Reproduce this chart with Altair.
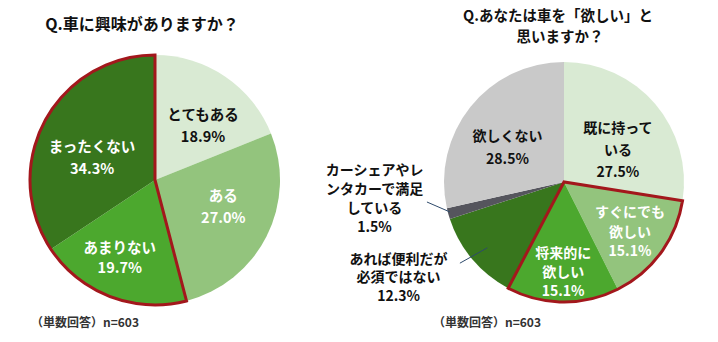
import altair as alt
import pandas as pd

# ---------------- data ----------------
left_categories = ["とてもある", "ある", "あまりない", "まったくない"]
left_names = ["とてもある", "ある", "あまりない", "まったくない"]
left_values = [18.9, 27.0, 19.7, 34.3]
left_highlight = [False, False, True, True]

right_categories = ["既に持っている", "すぐにでも欲しい", "将来的に欲しい",
                    "あれば便利だが必須ではない", "カーシェアやレンタカーで満足している", "欲しくない"]
right_names = ["既に持って\nいる", "すぐにでも\n欲しい", "将来的に\n欲しい",
               "あれば便利だが\n必須ではない", "カーシェアやレ\nンタカーで満足\nしている", "欲しくない"]
right_values = [27.5, 15.1, 15.1, 12.3, 1.5, 28.5]
right_highlight = [False, True, True, False, False, False]

left_title = "Q.車に興味がありますか？"
right_title_lines = ["Q.あなたは車を「欲しい」と", "思いますか？"]
footnote = "（単数回答）n=603"

# ---------------- styles ----------------
FONT = "Noto Sans CJK JP"
left_colors = ["#d9ead3", "#93c47d", "#4ca82e", "#38761d"]
right_colors = ["#d9ead3", "#93c47d", "#4ca82e", "#38761d", "#55555d", "#c9c9c9"]
RED = "#a3171c"
LEADER = "#2e4a6b"

LCX, LCY, LR = 155, 180, 125
RCX, RCY, RR = 564, 182, 120

color_scale = alt.Scale(domain=left_categories + right_categories,
                        range=left_colors + right_colors)
theta_scale = alt.Scale(domain=[0, 1])


def frame(cats, names, vals, hl):
    return pd.DataFrame({
        "idx": list(range(len(cats))),
        "cat": cats,
        "value": vals,
        "label": [f"{n}\n{v:.1f}%" for n, v in zip(names, vals)],
        "hl": hl,
    })


def base_chart(df):
    return (alt.Chart(df)
            .transform_window(cum="sum(value)", sort=[alt.SortField("idx")], frame=[None, 0])
            .transform_joinaggregate(total="sum(value)")
            .transform_calculate(start="(datum.cum - datum.value) / datum.total")
            .transform_calculate(end="datum.cum / datum.total")
            .transform_calculate(mid="(datum.cum - datum.value / 2) / datum.total"))


def pie_layers(df, cx, cy, R, label_specs, fs):
    base = base_chart(df)
    slices = base.mark_arc(radius=R).encode(
        theta=alt.Theta("start:Q", scale=theta_scale, stack=False),
        theta2="end:Q",
        color=alt.Color("cat:N", scale=color_scale, legend=None),
        x=alt.value(cx), y=alt.value(cy),
    )
    outline = (base.transform_filter("datum.hl")
               .transform_aggregate(s="min(start)", e="max(end)")
               .mark_arc(radius=R, fillOpacity=0, stroke=RED, strokeWidth=3, strokeJoin="miter")
               .encode(theta=alt.Theta("s:Q", scale=theta_scale, stack=False),
                       theta2="e:Q", x=alt.value(cx), y=alt.value(cy)))
    layers = [slices, outline]
    texts = []
    for cat, r, dx, dy, col, lh, nlines in label_specs:
        # first line sits on the anchor: shift so the whole block is centred
        dy_c = dy - (nlines - 1) * lh / 2
        texts.append(
            base.transform_filter(alt.datum.cat == cat)
            .mark_text(radius=r, dx=dx, dy=dy_c, font=FONT, fontSize=fs, fontWeight="bold",
                       color=col, lineBreak="\n", lineHeight=lh, align="center", baseline="middle")
            .encode(theta=alt.Theta("mid:Q", scale=theta_scale, stack=False),
                    text="label:N", x=alt.value(cx), y=alt.value(cy))
        )
    return base, layers, texts


left_df = frame(left_categories, left_names, left_values, left_highlight)
right_df = frame(right_categories, right_names, right_values, right_highlight)

left_specs = [
    ("とてもある", 75, 6, 9, "#111111", 22, 2),
    ("ある", 72, 4, -4, "white", 22, 2),
    ("あまりない", 82, -6, 2, "white", 20, 2),
    ("まったくない", 68, -3, 11, "white", 22, 2),
]
right_specs = [
    ("既に持っている", 63, 6, 10, "#111111", 22, 3),
    ("すぐにでも欲しい", 83, -1, 2, "white", 19.5, 3),
    ("将来的に欲しい", 89, 0, 2, "white", 19, 3),
    ("あれば便利だが必須ではない", 185, -24, -23, "#111111", 18.5, 3),
    ("カーシェアやレンタカーで満足している", 185, -11, -31, "#111111", 19, 4),
    ("欲しくない", 66, -5, 8, "#111111", 23, 2),
]

lbase, llayers, ltexts = pie_layers(left_df, LCX, LCY, LR, left_specs, 14.5)
rbase, rlayers, rtexts = pie_layers(right_df, RCX, RCY, RR, right_specs, 14)


def leader(base, cat, r1, d1, r2, d2):
    return (base.transform_filter(alt.datum.cat == cat)
            .transform_calculate(a="datum.mid * 2 * PI")
            .transform_calculate(x1=f"{RCX} + {r1} * sin(datum.a + {d1} * PI / 180)")
            .transform_calculate(y1=f"{RCY} - {r1} * cos(datum.a + {d1} * PI / 180)")
            .transform_calculate(x2=f"{RCX} + {r2} * sin(datum.a + {d2} * PI / 180)")
            .transform_calculate(y2=f"{RCY} - {r2} * cos(datum.a + {d2} * PI / 180)")
            .mark_rule(color=LEADER, strokeWidth=1)
            .encode(x=alt.X("x1:Q", scale=None), y=alt.Y("y1:Q", scale=None),
                    x2="x2:Q", y2="y2:Q"))


leaders = [
    leader(rbase, "あれば便利だが必須ではない", 101, -0.5, 132, 2.2),
    leader(rbase, "カーシェアやレンタカーで満足している", 118, 0.6, 138.5, 7.0),
]


def note(text, x, y, size, weight="bold", color="#111111"):
    return (alt.Chart(pd.DataFrame({"t": [text]}))
            .mark_text(font=FONT, fontSize=size, fontWeight=weight, color=color,
                       align="center", baseline="middle")
            .encode(text="t:N", x=alt.value(x), y=alt.value(y)))


notes = [
    note(left_title, 142, 25, 16),
    note(right_title_lines[0], 558, 17, 14.5),
    note(right_title_lines[1], 560, 38, 14.5),
    note(footnote, 85, 323, 12, color="#333333"),
    note(footnote, 487, 323, 12, color="#333333"),
]

chart = alt.layer(*llayers, *rlayers, *leaders, *ltexts, *rtexts, *notes).properties(
    width=718, height=342, padding=0,
    autosize=alt.AutoSizeParams(type="none"),
    background="white",
).configure_view(strokeWidth=0)

chart.save("out.html", embed_options={"renderer": "svg", "actions": False})
